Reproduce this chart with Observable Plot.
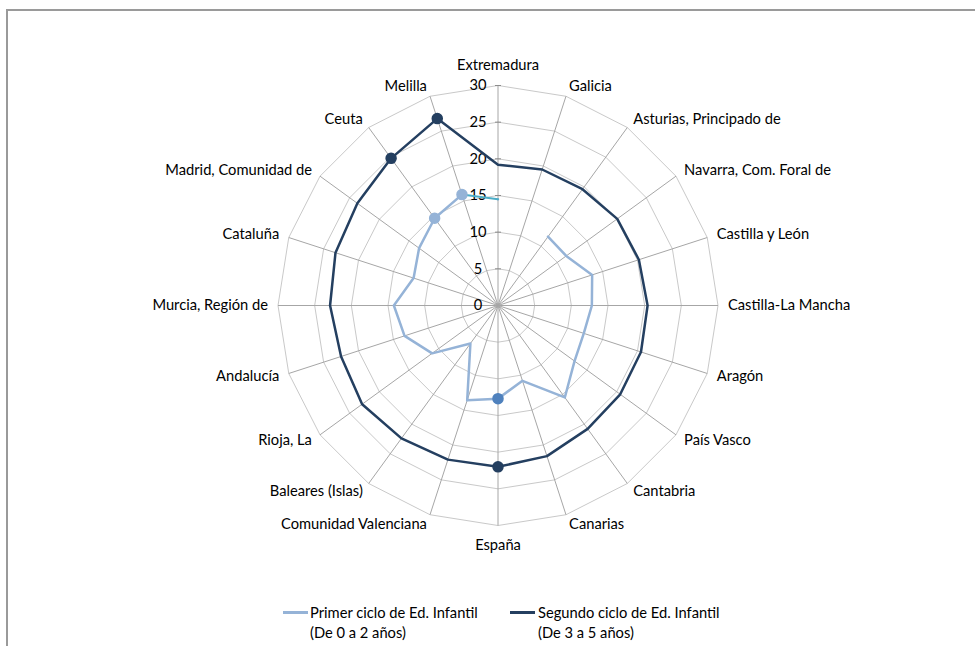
<!DOCTYPE html>
<html>
<head>
<meta charset="utf-8">
<script src="https://cdn.jsdelivr.net/npm/d3@7"></script>
<script src="https://cdn.jsdelivr.net/npm/@observablehq/plot@0.6"></script>
<style>
  html, body { margin: 0; padding: 0; background: #fff; overflow: hidden; }
  #wrap { position: relative; width: 975px; height: 646px; overflow: hidden; font-family: Lato, "Open Sans", sans-serif; }
  #frame { position: absolute; left: 6px; top: 9px; width: 1100px; height: 800px; border: 2px solid #9a9a9a; box-sizing: border-box; pointer-events: none; }
  #chart { position: absolute; left: 0; top: 0; }
  #legend { position: absolute; left: 0; top: 600px; width: 975px; height: 46px; font-size: 14.7px; color: #000; }
  .sw { position: absolute; height: 2.5px; width: 25px; top: 11px; }
  .lt { position: absolute; top: 2px; line-height: 20px; white-space: nowrap; }
</style>
</head>
<body>
<div id="wrap">
  <div id="frame"></div>
  <div id="chart"></div>
  <div id="legend">
    <div class="sw" style="left:283px;background:#95b3d7"></div>
    <div class="lt" style="left:310px">Primer ciclo de Ed. Infantil<br>(De 0 a 2 años)</div>
    <div class="sw" style="left:510px;background:#243f60"></div>
    <div class="lt" style="left:538px">Segundo ciclo de Ed. Infantil<br>(De 3 a 5 años)</div>
  </div>
</div>
<script>
const categories = ["Extremadura","Galicia","Asturias, Principado de","Navarra, Com. Foral de","Castilla y León","Castilla-La Mancha","Aragón","País Vasco","Cantabria","Canarias","España","Comunidad Valenciana","Baleares (Islas)","Rioja, La","Andalucía","Murcia, Región de","Cataluña","Madrid, Comunidad de","Ceuta","Melilla"];
const primerCiclo = [14.5, null, 11.6, 11.5, 13.5, 12.8, 12.3, 12.9, 15.5, 10.8, 12.7, 13.6, 6.4, 11.1, 13.4, 14.2, 12.1, 13.3, 14.7, 15.9];
const segundoCiclo = [19.2, 19.5, 19.6, 20.1, 20.2, 20.4, 20.5, 20.6, 20.8, 21.6, 22.0, 22.1, 22.4, 22.9, 22.5, 22.9, 23.3, 23.7, 24.8, 26.8];
const radialTicks = [0, 5, 10, 15, 20, 25, 30];
const markerCategories = ["España", "Ceuta", "Melilla"];

const n = categories.length;
const rMax = d3.max(radialTicks);
const W = 975, H = 600, cx = 497.5, cy = 305;
const k = 220 / rMax; // px per unit
const ang = i => i * 2 * Math.PI / n;
const px = (v, i) => v == null ? null : v * Math.sin(ang(i));
const py = (v, i) => v == null ? null : v * Math.cos(ang(i));

const rows = (vals) => vals.map((v, i) => ({i, cat: categories[i], v, x: px(v, i), y: py(v, i)}));
const primerRows = rows(primerCiclo);
const segundoRows = rows(segundoCiclo);
const segundoLoop = [...segundoRows, segundoRows[0]];
const primerClose = [primerRows[n - 1], primerRows[0]];

const rings = radialTicks.filter(t => t > 0).flatMap(t =>
  d3.range(n + 1).map(j => ({t, x: px(t, j % n), y: py(t, j % n)})));
const spokes = categories.map((c, i) => ({i, x2: px(rMax, i), y2: py(rMax, i)}));
const axisTicks = radialTicks.filter(t => t > 0).map(t => ({t}));

const off = 10 / k, offTB = 20 / k;
const labels = categories.map((c, i) => {
  const s = Math.sin(ang(i)), co = Math.cos(ang(i));
  const tb = Math.abs(s) < 0.01;
  return {c, i, s, tb,
    x: tb ? 0 : (rMax + off) * s,
    y: tb ? Math.sign(co) * (rMax + offTB) : (rMax + off) * co};
});

const markerIdx = markerCategories.map(m => categories.indexOf(m));
const primerMarkColor = {"España": "#4f81bd", "Ceuta": "#95b3d7", "Melilla": "#95b3d7"};

const font = "Lato, 'Open Sans', sans-serif";
const fs = 14.7;
const chart = Plot.plot({
  width: W, height: H, margin: 0,
  style: {fontFamily: font, fontSize: fs + "px", background: "transparent"},
  x: {domain: [-cx / k, (W - cx) / k], range: [0, W], axis: null},
  y: {domain: [-(H - cy) / k, cy / k], range: [H, 0], axis: null},
  marks: [
    Plot.line(rings, {x: "x", y: "y", z: "t", stroke: "#c9c9c9", strokeWidth: 1}),
    Plot.link(spokes, {x1: () => 0, y1: () => 0, x2: "x2", y2: "y2", stroke: "#a6a6a6", strokeWidth: 1}),
    Plot.link(axisTicks, {x1: () => -3 / k, x2: () => 3 / k, y1: "t", y2: "t", stroke: "#8c8c8c", strokeWidth: 1}),
    Plot.text(radialTicks, {x: () => -20 / k, y: d => d, text: d => String(d), textAnchor: "middle", fill: "#000", fontSize: fs}),
    Plot.text(labels.filter(d => !d.tb && d.s > 0), {x: "x", y: "y", text: "c", textAnchor: "start", fill: "#000", fontSize: fs}),
    Plot.text(labels.filter(d => !d.tb && d.s < 0), {x: "x", y: "y", text: "c", textAnchor: "end", fill: "#000", fontSize: fs}),
    Plot.text(labels.filter(d => d.tb), {x: "x", y: "y", text: "c", textAnchor: "middle", fill: "#000", fontSize: fs}),
    Plot.line(primerRows, {x: "x", y: "y", stroke: "#95b3d7", strokeWidth: 2.5, strokeLinejoin: "round", curve: "linear"}),
    Plot.line(primerClose, {x: "x", y: "y", stroke: "#4bacc6", strokeWidth: 2, curve: "linear"}),
    Plot.line(segundoLoop, {x: "x", y: "y", stroke: "#243f60", strokeWidth: 2.5, strokeLinejoin: "round", curve: "linear"}),
    Plot.dot(markerIdx.map(i => primerRows[i]), {x: "x", y: "y", r: 5, fill: d => primerMarkColor[d.cat], stroke: d => primerMarkColor[d.cat]}),
    Plot.dot(markerIdx.map(i => segundoRows[i]), {x: "x", y: "y", r: 5, fill: "#243f60", stroke: "#243f60"})
  ]
});
document.getElementById("chart").appendChild(chart);
</script>
</body>
</html>
